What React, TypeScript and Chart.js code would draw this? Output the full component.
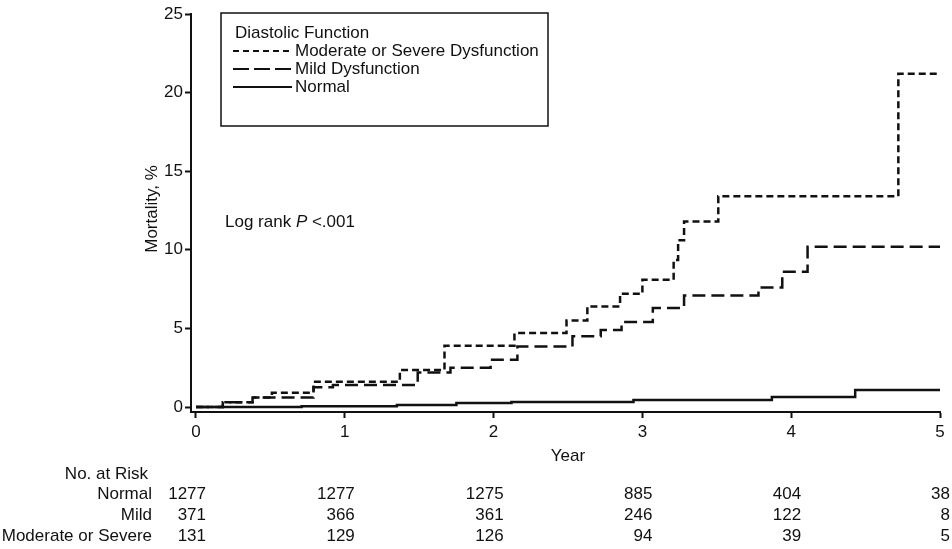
import React, { useEffect, useRef } from "react";
import { Chart, registerables } from "chart.js";

Chart.register(...registerables);

// ---- data ----
const years = [0, 1, 2, 3, 4, 5];
const yTickValues = [0, 5, 10, 15, 20, 25];
const legendTitle = "Diastolic Function";
const seriesLabels = ["Moderate or Severe Dysfunction", "Mild Dysfunction", "Normal"];

const modTimes = [0, 0.18, 0.38, 0.51, 0.79, 1.37, 1.67, 2.14, 2.49, 2.63, 2.85, 3.0, 3.21, 3.24, 3.28, 3.51, 4.72, 5.0];
const modValues = [0, 0.3, 0.6, 0.9, 1.6, 2.35, 3.9, 4.7, 5.5, 6.4, 7.2, 8.1, 9.35, 10.6, 11.8, 13.4, 21.2, 21.2];

const mildTimes = [0, 0.18, 0.38, 0.79, 0.92, 1.49, 1.71, 1.98, 2.16, 2.53, 2.72, 2.86, 3.07, 3.28, 3.78, 3.94, 4.11, 5.0];
const mildValues = [0, 0.3, 0.6, 1.25, 1.4, 2.2, 2.5, 3.0, 3.85, 4.5, 4.9, 5.4, 6.3, 7.1, 7.6, 8.6, 10.2, 10.2];

const normalTimes = [0, 0.71, 1.35, 1.75, 2.12, 2.94, 3.87, 4.43, 5.0];
const normalValues = [0, 0.05, 0.13, 0.25, 0.32, 0.45, 0.64, 1.08, 1.08];

const riskTitle = "No. at Risk";
const riskRowLabels = ["Normal", "Mild", "Moderate or Severe"];
const riskNormal = [1277, 1277, 1275, 885, 404, 38];
const riskMild = [371, 366, 361, 246, 122, 8];
const riskModerate = [131, 129, 126, 94, 39, 5];

const xTitle = "Year";
const yTitle = "Mortality, %";
const logRankParts = ["Log rank ", "P", " <.001"];

const FONT = '"Liberation Sans", Arial, Helvetica, sans-serif';
const INK = "#111";

function toPoints(ts: number[], vs: number[]) {
  return ts.map((t, i) => ({ x: t, y: vs[i] }));
}

export default function App() {
  const ref = useRef<HTMLCanvasElement>(null);

  useEffect(() => {
    const canvas = ref.current;
    if (!canvas) return;

    const annotations = {
      id: "annotations",
      afterDraw(chart: any) {
        const ctx = chart.ctx as CanvasRenderingContext2D;
        const xs = chart.scales.x;
        const area = chart.chartArea;
        ctx.save();
        ctx.fillStyle = INK;
        ctx.strokeStyle = INK;
        ctx.font = `17px ${FONT}`;
        ctx.textBaseline = "middle";

        // y title
        ctx.save();
        ctx.translate(152, (area.top + area.bottom) / 2 - 4);
        ctx.rotate(-Math.PI / 2);
        ctx.textAlign = "center";
        ctx.fillText(yTitle, 0, 0);
        ctx.restore();

        // x title
        ctx.textAlign = "center";
        ctx.fillText(xTitle, (xs.getPixelForValue(0) + xs.getPixelForValue(5)) / 2, area.bottom + 44);

        // log rank text
        ctx.textAlign = "left";
        let lx = area.left + 34;
        const ly = 222;
        ctx.font = `17px ${FONT}`;
        ctx.fillText(logRankParts[0], lx, ly);
        lx += ctx.measureText(logRankParts[0]).width;
        ctx.font = `italic 17px ${FONT}`;
        ctx.fillText(logRankParts[1], lx, ly);
        lx += ctx.measureText(logRankParts[1]).width;
        ctx.font = `17px ${FONT}`;
        ctx.fillText(logRankParts[2], lx, ly);

        // legend box
        const bx = area.left + 30, by = 13, bw = 327, bh = 113;
        ctx.lineWidth = 1.5;
        ctx.strokeRect(bx, by, bw, bh);
        ctx.fillText(legendTitle, bx + 14, by + 20);
        chart.data.datasets.forEach((ds: any, i: number) => {
          const ry = by + 38 + i * 18;
          ctx.save();
          ctx.lineWidth = 2;
          ctx.setLineDash(ds.legendDash || []);
          ctx.beginPath();
          ctx.moveTo(bx + 12, ry);
          ctx.lineTo(bx + 71, ry);
          ctx.stroke();
          ctx.restore();
          ctx.fillText(ds.label, bx + 74, ry);
        });

        // risk table
        ctx.textAlign = "right";
        ctx.fillText(riskTitle, 148, 474);
        const rows = [riskNormal, riskMild, riskModerate];
        rows.forEach((row, r) => {
          const ry = 494 + r * 21;
          ctx.textAlign = "right";
          ctx.fillText(riskRowLabels[r], 152, ry);
          row.forEach((n, c) => {
            ctx.fillText(String(n), xs.getPixelForValue(years[c]) + 10, ry);
          });
        });
        ctx.restore();
      },
    };

    const chart = new Chart(canvas, {
      type: "line",
      data: {
        datasets: [
          {
            label: seriesLabels[0],
            data: toPoints(modTimes, modValues),
            borderColor: INK,
            borderWidth: 2.5,
            borderDash: [7, 4],
            legendDash: [6, 4],
            stepped: true,
            pointRadius: 0,
            fill: false,
          } as any,
          {
            label: seriesLabels[1],
            data: toPoints(mildTimes, mildValues),
            borderColor: INK,
            borderWidth: 2.5,
            borderDash: [13, 6],
            legendDash: [16, 5],
            stepped: true,
            pointRadius: 0,
            fill: false,
          } as any,
          {
            label: seriesLabels[2],
            data: toPoints(normalTimes, normalValues),
            borderColor: INK,
            borderWidth: 2.5,
            legendDash: [],
            stepped: true,
            pointRadius: 0,
            fill: false,
          } as any,
        ],
      },
      options: {
        animation: false,
        responsive: false,
        devicePixelRatio: 1,
        parsing: true,
        layout: { padding: { top: 14, right: 12, left: 0, bottom: 0 } },
        plugins: { legend: { display: false }, tooltip: { enabled: false } },
        scales: {
          x: {
            type: "linear",
            min: -0.0336,
            max: 5,
            afterFit: (s: any) => {
              s.height = 137;
            },
            afterBuildTicks: (s: any) => {
              s.ticks = years.map((v) => ({ value: v }));
            },
            ticks: {
              font: { family: FONT, size: 17 },
              color: INK,
              padding: 4,
              maxRotation: 0,
              autoSkip: false,
              callback: (v: any) => String(v),
            },
            grid: { display: true, drawOnChartArea: false, drawTicks: true, tickLength: 6, tickColor: INK, tickWidth: 2 },
            border: { display: true, color: INK, width: 2 },
          },
          y: {
            type: "linear",
            min: -0.318,
            max: 25,
            afterFit: (s: any) => {
              s.width = 191;
            },
            afterBuildTicks: (s: any) => {
              s.ticks = yTickValues.map((v) => ({ value: v }));
            },
            ticks: {
              font: { family: FONT, size: 17 },
              color: INK,
              padding: 2,
              autoSkip: false,
              callback: (v: any) => String(v),
            },
            grid: { display: true, drawOnChartArea: false, drawTicks: true, tickLength: 6, tickColor: INK, tickWidth: 2 },
            border: { display: true, color: INK, width: 2 },
          },
        },
      },
      plugins: [annotations],
    } as any);

    return () => chart.destroy();
  }, []);

  return (
    <div style={{ position: "fixed", left: 0, top: 0, width: 952, height: 549, background: "#fff" }}>
      <canvas ref={ref} width={952} height={549} style={{ display: "block" }} />
    </div>
  );
}
